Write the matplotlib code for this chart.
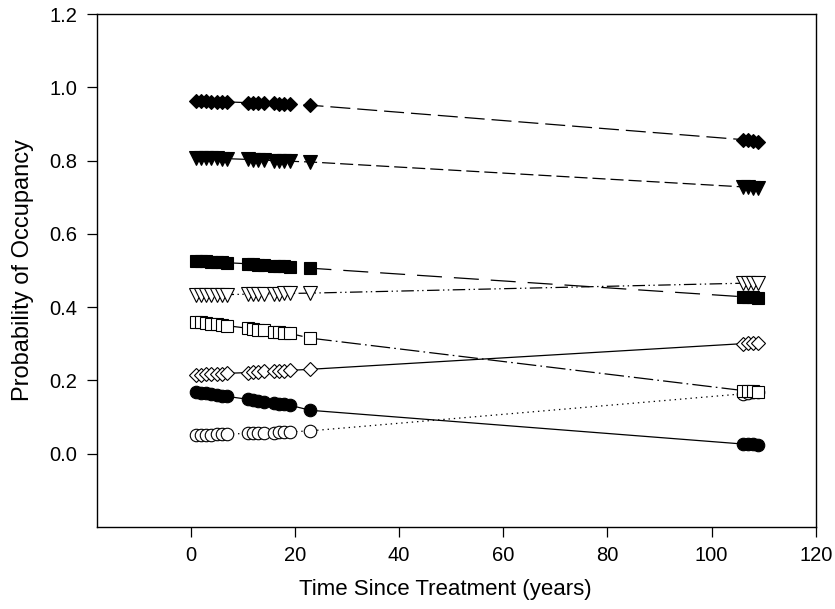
import numpy as np
import matplotlib
matplotlib.use("Agg")
import matplotlib.pyplot as plt

plt.rcParams['font.family'] = ['Liberation Sans', 'DejaVu Sans']
plt.rcParams['lines.scale_dashes'] = False

# Site ages (years since treatment)
years = [1, 2, 3, 4, 5, 6, 7, 11, 12, 13, 14, 16, 17, 18, 19, 23, 106, 107, 108, 109]

# Probability of occupancy per species
diamond_filled = [0.963, 0.962, 0.962, 0.961, 0.961, 0.960, 0.960, 0.958, 0.958, 0.957,
                  0.957, 0.956, 0.955, 0.955, 0.954, 0.951, 0.857, 0.855, 0.853, 0.851]
tri_filled = [0.808, 0.807, 0.807, 0.806, 0.806, 0.805, 0.805, 0.803, 0.802, 0.802,
              0.801, 0.800, 0.799, 0.799, 0.798, 0.796, 0.728, 0.727, 0.726, 0.725]
square_filled = [0.527, 0.526, 0.525, 0.524, 0.523, 0.522, 0.521, 0.518, 0.517, 0.516,
                 0.515, 0.513, 0.512, 0.511, 0.510, 0.506, 0.428, 0.427, 0.426, 0.425]
tri_open = [0.433, 0.433, 0.433, 0.434, 0.434, 0.434, 0.434, 0.435, 0.435, 0.435,
            0.436, 0.436, 0.436, 0.437, 0.437, 0.438, 0.465, 0.465, 0.466, 0.466]
square_open = [0.360, 0.358, 0.356, 0.355, 0.353, 0.351, 0.349, 0.342, 0.340, 0.338,
               0.336, 0.333, 0.331, 0.330, 0.328, 0.315, 0.172, 0.171, 0.170, 0.169]
diamond_open = [0.214, 0.215, 0.216, 0.216, 0.217, 0.218, 0.219, 0.221, 0.222, 0.223,
                0.224, 0.225, 0.226, 0.226, 0.227, 0.230, 0.300, 0.301, 0.302, 0.303]
circle_filled = [0.168, 0.166, 0.164, 0.162, 0.160, 0.158, 0.156, 0.148, 0.146, 0.144,
                 0.142, 0.138, 0.136, 0.134, 0.132, 0.118, 0.026, 0.025, 0.025, 0.024]
circle_open = [0.050, 0.050, 0.051, 0.051, 0.052, 0.052, 0.053, 0.055, 0.055, 0.056,
               0.056, 0.057, 0.058, 0.058, 0.059, 0.062, 0.163, 0.165, 0.167, 0.169]


fig = plt.figure(figsize=(8.35, 6.09), dpi=100)
ax = fig.add_axes([0.116, 0.135, 0.861, 0.842])

# (data, marker, face, dash pattern, marker size)
series = [
    (circle_open, 'o', 'white', (0, (1, 2.8)), 9.0),
    (circle_filled, 'o', 'black', '-', 9.0),
    (diamond_open, 'D', 'white', '-', 7.6),
    (square_open, 's', 'white', (0, (14, 3, 1.2, 3)), 8.0),
    (tri_open, 'v', 'white', (0, (9, 2.5, 1, 2.5, 1, 2.5)), 9.5),
    (square_filled, 's', 'black', (0, (18, 8.6)), 8.0),
    (tri_filled, 'v', 'black', (0, (9.4, 3.6)), 9.5),
    (diamond_filled, 'D', 'black', (0, (14.4, 5)), 7.6),
]

for vals, mk, fc, ls, ms in series:
    ax.plot(years, vals, color='black', lw=0.9, linestyle=ls,
            marker=mk, markersize=ms, markerfacecolor=fc,
            markeredgecolor='black', markeredgewidth=0.8)

ax.set_xlim(-18, 120)
ax.set_ylim(-0.2, 1.2)
ax.set_xticks(np.arange(0, 121, 20))
ax.set_yticks(np.arange(0, 1.21, 0.2))
ax.set_yticklabels(['%.1f' % v for v in np.arange(0, 1.21, 0.2)])

ax.tick_params(direction='out', length=7, width=0.9, labelsize=14.5, pad=7)
for sp in ax.spines.values():
    sp.set_linewidth(1.0)

ax.set_xlabel('Time Since Treatment (years)', fontsize=16)
ax.xaxis.set_label_coords(0.484, -0.102)
ax.set_ylabel('Probability of Occupancy', fontsize=17, labelpad=11)

fig.savefig('out.png', dpi=100)
